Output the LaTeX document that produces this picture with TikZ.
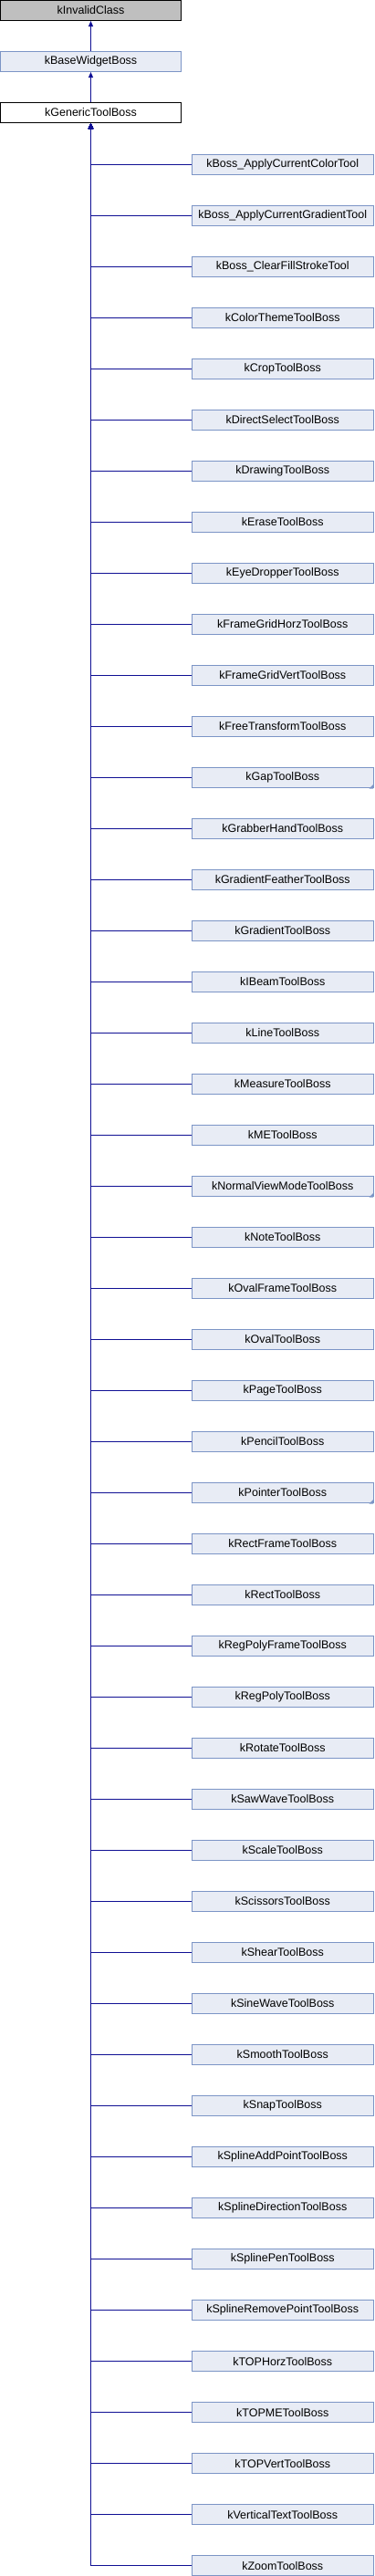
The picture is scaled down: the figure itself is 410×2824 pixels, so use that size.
\documentclass[tikz,border=0pt]{standalone}
\usepackage{fontspec}
\setmainfont{Liberation Sans}
\usetikzlibrary{arrows.meta}
\definecolor{edgeblue}{RGB}{16,16,148}
\definecolor{boxfill}{RGB}{232,236,245}
\definecolor{boxline}{RGB}{124,149,198}
\definecolor{grayfill}{RGB}{191,191,191}
\tikzset{
  basebox/.style={rectangle, inner sep=0pt, line width=1pt, font=\fontsize{12.5}{14}\selectfont},
  parentbox/.style={basebox, draw=boxline, fill=boxfill, minimum width=198pt, minimum height=22pt},
  rootbox/.style={basebox, draw=black, fill=grayfill, minimum width=198pt, minimum height=22pt},
  whitebox/.style={basebox, draw=black, fill=white, minimum width=198pt, minimum height=22pt},
  childbox/.style={basebox, draw=boxline, fill=boxfill, minimum width=198.5pt, minimum height=22pt},
  edge/.style={draw=edgeblue, line width=1pt, -{Triangle[length=6pt,width=5pt]}},
  cornermark/.style={fill=boxline, draw=none}
}
\begin{document}
\begin{tikzpicture}[x=1pt,y=-1pt]
\useasboundingbox (0,0) rectangle (410,2824);
\node[rootbox] (p0) at (99.5,11.5) {kInvalidClass};
\node[parentbox] (p1) at (99.5,67.5) {kBaseWidgetBoss};
\node[whitebox] (p2) at (99.5,123.5) {kGenericToolBoss};
\draw[edge] (p1.north) -- (p0.south);
\draw[edge] (p2.north) -- (p1.south);
\foreach \name [count=\i from 0] in {kBoss\_ApplyCurrentColorTool,kBoss\_ApplyCurrentGradientTool,kBoss\_ClearFillStrokeTool,kColorThemeToolBoss,kCropToolBoss,kDirectSelectToolBoss,kDrawingToolBoss,kEraseToolBoss,kEyeDropperToolBoss,kFrameGridHorzToolBoss,kFrameGridVertToolBoss,kFreeTransformToolBoss,kGapToolBoss,kGrabberHandToolBoss,kGradientFeatherToolBoss,kGradientToolBoss,kIBeamToolBoss,kLineToolBoss,kMeasureToolBoss,kMEToolBoss,kNormalViewModeToolBoss,kNoteToolBoss,kOvalFrameToolBoss,kOvalToolBoss,kPageToolBoss,kPencilToolBoss,kPointerToolBoss,kRectFrameToolBoss,kRectToolBoss,kRegPolyFrameToolBoss,kRegPolyToolBoss,kRotateToolBoss,kSawWaveToolBoss,kScaleToolBoss,kScissorsToolBoss,kShearToolBoss,kSineWaveToolBoss,kSmoothToolBoss,kSnapToolBoss,kSplineAddPointToolBoss,kSplineDirectionToolBoss,kSplinePenToolBoss,kSplineRemovePointToolBoss,kTOPHorzToolBoss,kTOPMEToolBoss,kTOPVertToolBoss,kVerticalTextToolBoss,kZoomToolBoss} {
  \node[childbox] (c\i) at (309.75,{180.5+56*\i}) {\name};
  \draw[edge] (c\i.west) -| (p2.south);
}
\foreach \i in {12,20,26} {
  \fill[cornermark] ([xshift=-5pt,yshift=-0.5pt]c\i.south east) -- ([xshift=-0.5pt,yshift=-0.5pt]c\i.south east) -- ([xshift=-0.5pt,yshift=4pt]c\i.south east) -- cycle;
}
\end{tikzpicture}
\end{document}
